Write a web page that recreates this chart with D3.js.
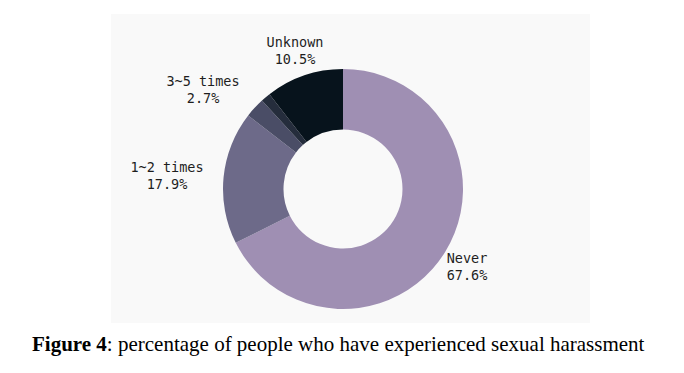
<!DOCTYPE html>
<html>
<head>
<meta charset="utf-8">
<script src="https://cdn.jsdelivr.net/npm/d3@7"></script>
<style>
  body { margin: 0; background: #fff; }
</style>
</head>
<body>
<div id="wrapper"></div>
<script>
const categories = ["Never", "1~2 times", "3~5 times", "6+ times", "Unknown"];
const shares = [67.6, 17.9, 2.7, 1.3, 10.5];
const showLabel = [true, true, true, false, true];
const colors = ["#9f8fb3", "#6d6a89", "#4a4d66", "#252d3c", "#07131c"];

function buildChart() {
    const width = 684, height = 373;
    const cx = 343, cy = 189;
    const outerR = 120, innerR = 59.5;

    const data = categories.map((c, i) => ({ name: c, value: shares[i], label: showLabel[i] }));

    const svg = d3.select("#wrapper").append("svg")
        .attr("width", width)
        .attr("height", height);

    // light panel behind the chart
    svg.append("rect")
        .attr("x", 111).attr("y", 14)
        .attr("width", 479).attr("height", 309)
        .attr("fill", "#f9f9f9");

    const pie = d3.pie().sort(null).value(d => d.value);
    const arc = d3.arc().innerRadius(innerR).outerRadius(outerR);
    const arcs = pie(data);

    const g = svg.append("g").attr("transform", `translate(${cx},${cy})`);

    g.selectAll("path")
        .data(arcs)
        .join("path")
        .attr("d", arc)
        .attr("fill", (d, i) => colors[i]);

    // label positions pushed outward from each slice
    const labelOffset = {
        "Never": [124, 74],
        "1~2 times": [-176, -17],
        "3~5 times": [-140, -103],
        "Unknown": [-48, -142]
    };

    const labels = g.selectAll("text.lbl")
        .data(arcs.filter(d => d.data.label))
        .join("text")
        .attr("class", "lbl")
        .attr("text-anchor", "middle")
        .attr("font-family", "DejaVu Sans Mono, monospace")
        .attr("font-size", 13.5)
        .attr("fill", "#1e1e1e")
        .attr("transform", d => `translate(${labelOffset[d.data.name][0]},${labelOffset[d.data.name][1]})`);

    labels.append("tspan").attr("x", 0).attr("dy", 0).text(d => d.data.name);
    labels.append("tspan").attr("x", 0).attr("dy", 17).text(d => d3.format(".1f")(d.data.value) + "%");

    // caption
    const cap = svg.append("text")
        .attr("x", 32).attr("y", 351)
        .attr("font-family", "Liberation Serif, Times New Roman, serif")
        .attr("font-size", 21)
        .attr("fill", "#000");
    cap.append("tspan").attr("font-weight", "bold").text("Figure 4");
    cap.append("tspan").text(": percentage of people who have experienced sexual harassment");
}

buildChart();
</script>
</body>
</html>
